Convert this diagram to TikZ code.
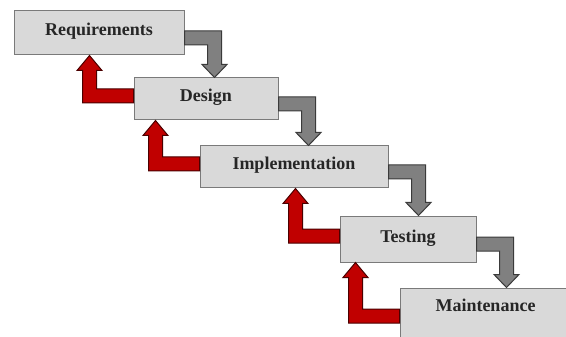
\documentclass[tikz,border=0pt]{standalone}
\usepackage{fontspec}
\setmainfont{Liberation Serif}
\usetikzlibrary{calc}
\definecolor{boxfill}{HTML}{D9D9D9}
\definecolor{boxline}{HTML}{7A7A7A}
\definecolor{grayfill}{HTML}{808080}
\definecolor{grayline}{HTML}{3A3A3A}
\definecolor{redfill}{HTML}{C00000}
\definecolor{redline}{HTML}{4A0000}
\tikzset{
  phase/.style={draw=boxline, fill=boxfill, line width=1pt, inner sep=0pt,
    font=\bfseries\fontsize{18}{20}\selectfont, text=black!85,
    text height=11pt, text depth=5pt},
  phasetext/.style={inner sep=0pt, font=\bfseries\fontsize{18}{20}\selectfont,
    text=black!85, text height=11pt, text depth=5pt},
  forwardarrow/.style={fill=grayfill, draw=grayline, line width=1pt, line join=miter},
  backarrow/.style={fill=redfill, draw=redline, line width=1pt, line join=miter}
}
% gray L-shaped arrow: from east side of #1 down to north side of #2
\newcommand\stepdownarrow[2]{%
  \path[forwardarrow] let \p1=(#1.east), \p2=(#2.north) in
    (\x1,\y1+2pt) -- (\x1+37pt,\y1+2pt) -- (\x1+37pt,\y2+13pt)
    -- (\x1+42.5pt,\y2+13pt) -- (\x1+30pt,\y2) -- (\x1+17.5pt,\y2+13pt)
    -- (\x1+23pt,\y2+13pt) -- (\x1+23pt,\y1-12pt) -- (\x1,\y1-12pt) -- cycle;}
% red L-shaped arrow: from west side of #2 up to south side of #1
\newcommand\stepbackarrow[2]{%
  \path[backarrow] let \p1=(#2.west), \p2=(#1.south) in
    (\x1,\y1-4pt) -- (\x1-51pt,\y1-4pt) -- (\x1-51pt,\y2-15pt)
    -- (\x1-56.5pt,\y2-15pt) -- (\x1-44pt,\y2) -- (\x1-31.5pt,\y2-15pt)
    -- (\x1-37pt,\y2-15pt) -- (\x1-37pt,\y1+10pt) -- (\x1,\y1+10pt) -- cycle;}
\begin{document}
\begin{tikzpicture}[x=1pt,y=-1pt]
  \useasboundingbox (0,0) rectangle (566,337);
  \clip (0,0) rectangle (566,337);
  \fill[white] (0,0) rectangle (566,337);

  \node[phase, minimum width=170pt, minimum height=44pt] (req) at (99,33) {Requirements};
  \node[phase, minimum width=144pt, minimum height=42pt] (des) at (206,99) {Design};
  \node[phase, minimum width=188pt, minimum height=42pt] (imp) at (294,167) {Implementation};
  \node[phase, minimum width=136pt, minimum height=46pt] (tst) at (408,239) {Testing};
  \node[phase, minimum width=180pt, minimum height=62pt] (mnt) at (490,319) {};
  \node[phasetext] (mnttext) at (485.5,308.5) {Maintenance};

  \stepdownarrow{req}{des}
  \stepdownarrow{des}{imp}
  \stepdownarrow{imp}{tst}
  \stepdownarrow{tst}{mnt}

  \stepbackarrow{req}{des}
  \stepbackarrow{des}{imp}
  \stepbackarrow{imp}{tst}
  \stepbackarrow{tst}{mnt}
\end{tikzpicture}
\end{document}
